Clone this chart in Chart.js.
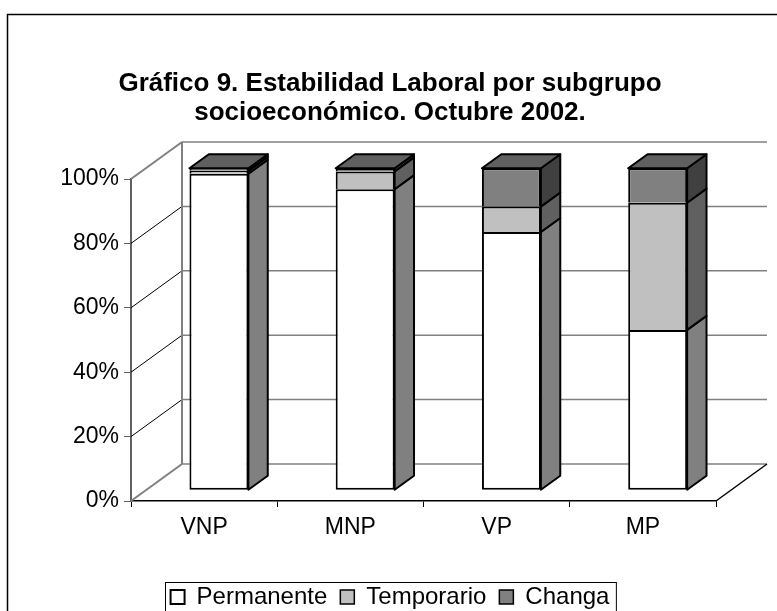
<!DOCTYPE html>
<html>
<head>
<meta charset="utf-8">
<script src="https://cdn.jsdelivr.net/npm/chart.js@4.4.1/dist/chart.umd.min.js"></script>
<style>
  body { margin: 0; background: #fff; }
  canvas { display: block; }
</style>
</head>
<body>
<canvas id="chart" width="777" height="611"></canvas>
<script>
const categories = ['VNP', 'MNP', 'VP', 'MP'];
const permanente = [98.3, 93.5, 80.2, 49.8];
const temporario = [0.9, 5.5, 7.9, 39.5];
const changa = [0.8, 1.0, 11.9, 10.7];
const seriesNames = ['Permanente', 'Temporario', 'Changa'];
const yTicks = [0, 20, 40, 60, 80, 100];

const font = 'Arial, "Liberation Sans", sans-serif';

// depth of the 3d box, and where the bars sit inside it (fraction of depth)
const depth = { x: 51, y: -37 };
const barFront = 0.29;
const barBack = 0.67;

const fillColors = ['#ffffff', '#c0c0c0', '#808080'];
const sideColors = ['#808080', '#606060', '#404040'];
const topColors = ['#c0c0c0', '#909090', '#606060'];

function line(ctx, x1, y1, x2, y2) {
    ctx.beginPath();
    ctx.moveTo(x1, y1);
    ctx.lineTo(x2, y2);
    ctx.stroke();
}

function poly(ctx, pts, fill) {
    ctx.beginPath();
    pts.forEach((p, i) => i ? ctx.lineTo(p[0], p[1]) : ctx.moveTo(p[0], p[1]));
    ctx.closePath();
    ctx.fillStyle = fill;
    ctx.fill();
    ctx.stroke();
}

const box3d = {
    id: 'box3d',
    beforeDraw(chart) {
        const ctx = chart.ctx;
        ctx.save();
        ctx.fillStyle = '#fff';
        ctx.fillRect(0, 0, chart.width, chart.height);
        ctx.strokeStyle = '#000';
        ctx.lineWidth = 1.5;
        ctx.strokeRect(7.5, 14.5, chart.width + 20, chart.height + 20);
        ctx.restore();
    },
    beforeDatasetsDraw(chart) {
        const { ctx, chartArea: a, scales: { y } } = chart;
        const dx = depth.x, dy = depth.y;
        ctx.save();
        // gridlines on the left wall
        ctx.lineWidth = 1;
        ctx.strokeStyle = '#000';
        yTicks.slice(1, -1).forEach(v => {
            const py = y.getPixelForValue(v);
            line(ctx, a.left, py, a.left + dx, py + dy);
        });
        // gridlines on the back wall
        ctx.strokeStyle = '#808080';
        ctx.lineWidth = 1.5;
        yTicks.forEach(v => {
            const py = y.getPixelForValue(v) + dy;
            line(ctx, a.left + dx, py, a.right + dx, py);
        });
        // wall edges
        ctx.lineWidth = 2;
        line(ctx, a.left, a.top, a.left + dx, a.top + dy);
        line(ctx, a.left, a.bottom, a.left + dx, a.bottom + dy);
        line(ctx, a.left + dx, a.top + dy, a.left + dx, a.bottom + dy);
        ctx.strokeStyle = '#000';
        ctx.lineWidth = 1.5;
        line(ctx, a.right, a.bottom, a.right + dx, a.bottom + dy);
        ctx.restore();

        ctx.save();
        ctx.translate(dx * barFront, dy * barFront);
    },
    afterDatasetsDraw(chart) {
        const ctx = chart.ctx;
        const sx = depth.x * (barBack - barFront);
        const sy = depth.y * (barBack - barFront);
        ctx.lineWidth = 2;
        ctx.strokeStyle = '#000';
        ctx.lineJoin = 'round';
        const n = chart.data.datasets.length;
        chart.data.labels.forEach((_, j) => {
            let topIdx = 0;
            for (let i = 0; i < n; i++) {
                const { x, y, base, width } = chart.getDatasetMeta(i).data[j].getProps(['x', 'y', 'base', 'width'], true);
                const r = x + width / 2;
                poly(ctx, [[r, y], [r + sx, y + sy], [r + sx, base + sy], [r, base]], sideColors[i]);
                if (chart.data.datasets[i].data[j] > 0) topIdx = i;
            }
            const { x, y, width } = chart.getDatasetMeta(topIdx).data[j].getProps(['x', 'y', 'width'], true);
            const l = x - width / 2, r = x + width / 2;
            poly(ctx, [[l, y], [l + sx, y + sy], [r + sx, y + sy], [r, y]], topColors[topIdx]);
        });
        ctx.restore();
    },
    afterDraw(chart) {
        const ctx = chart.ctx;
        const boxes = chart.legend.legendHitBoxes;
        if (!boxes || !boxes.length) return;
        const left = Math.min(...boxes.map(b => b.left)) - 6;
        const right = Math.max(...boxes.map(b => b.left + b.width)) + 6;
        const top = boxes[0].top - 3;
        ctx.save();
        ctx.strokeStyle = '#000';
        ctx.lineWidth = 1;
        ctx.strokeRect(Math.round(left) + 0.5, Math.round(top) + 0.5, right - left, 60);
        ctx.restore();
    }
};

const ctx = document.getElementById('chart').getContext('2d');

new Chart(ctx, {
    type: 'bar',
    data: {
        labels: categories,
        datasets: [permanente, temporario, changa].map((values, i) => ({
            label: seriesNames[i],
            data: values,
            backgroundColor: fillColors[i],
            borderColor: '#000',
            borderWidth: { top: 2, left: 2, right: 2, bottom: i === 0 ? 2 : 0 },
            borderSkipped: false,
            clip: false,
            categoryPercentage: 1,
            barPercentage: 0.403,
        }))
    },
    options: {
        responsive: false,
        animation: false,
        layout: {
            padding: { left: 40, right: 37, top: 0, bottom: -8 }
        },
        scales: {
            x: {
                stacked: true,
                grid: { offset: true, drawOnChartArea: false, tickLength: 6, color: '#000' },
                border: { color: '#000', width: 1.5 },
                ticks: { padding: 7, color: '#000', font: { family: font, size: 23 } },
                afterFit: s => { s.height = 71; }
            },
            y: {
                stacked: true,
                min: 0,
                max: 100,
                grid: { drawOnChartArea: false, tickLength: 7, color: '#606060' },
                border: { color: '#606060', width: 2 },
                ticks: {
                    stepSize: 20,
                    padding: 5,
                    color: '#000',
                    font: { family: font, size: 23 },
                    callback: v => v + '%'
                },
                afterFit: s => { s.width = 91; }
            },
            // empty strip on the right so the title and legend stay centred like the original
            spacer: {
                type: 'linear',
                position: 'right',
                grid: { display: false },
                border: { display: false },
                ticks: { display: false },
                afterFit: s => { s.width = 24; }
            }
        },
        plugins: {
            title: {
                display: true,
                text: ['Gráfico 9. Estabilidad Laboral por subgrupo', 'socioeconómico. Octubre 2002.'],
                color: '#000',
                font: { family: font, size: 26, weight: 'bold', lineHeight: 1.1 },
                padding: { top: 69.7, bottom: 52.1 }
            },
            legend: {
                position: 'bottom',
                labels: {
                    boxWidth: 14,
                    boxHeight: 14,
                    padding: 13,
                    color: '#000',
                    font: { family: font, size: 24 }
                }
            },
            tooltip: { enabled: false }
        }
    },
    plugins: [box3d]
});
</script>
</body>
</html>
